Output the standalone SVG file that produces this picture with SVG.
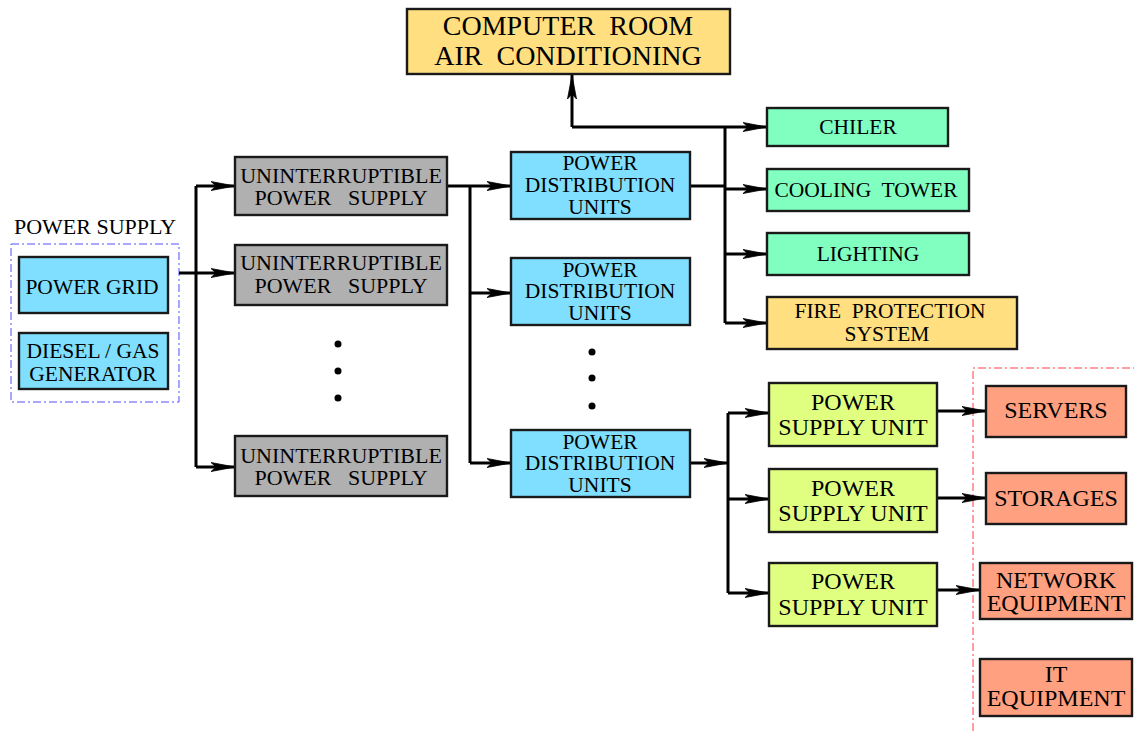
<svg xmlns="http://www.w3.org/2000/svg" width="1134" height="731" viewBox="0 0 1134 731">
<style>
.box{stroke:#1a1a1a;stroke-width:2.4}
.t{font-family:'Liberation Serif','Times New Roman','DejaVu Serif',serif;fill:#000;text-anchor:middle;white-space:pre}
.blue{fill:#80DFFF}.grey{fill:#B0B0B0}.green{fill:#80FFC0}.orange{fill:#FFDF80}.lime{fill:#E0FF80}.salmon{fill:#FFA080}
.ln{fill:none;stroke:#000;stroke-width:3}
.arr{marker-end:url(#ah)}
</style>
<defs>
<marker id="ah" markerUnits="userSpaceOnUse" markerWidth="26" markerHeight="12" viewBox="0 -6 26 12" refX="24" refY="0" orient="auto">
<path d="M0,-4.5 L24,0 L0,4.5 L5,0 z" fill="#000" stroke="#000" stroke-width="0.8"/>
</marker>
</defs>
<rect x="11" y="244" width="168" height="158" fill="none" stroke="#5050FF" stroke-width="1" stroke-dasharray="8,3,2,3"/>
<text class="t" x="95" y="234" font-size="22">POWER SUPPLY</text>
<path d="M973,731 V368 H1134" fill="none" stroke="#FF4040" stroke-width="1" stroke-dasharray="8,3,2,3"/>
<g id="connectors">
<path class="ln" d="M196,186 V467"/>
<path class="ln arr" d="M196,186 H235"/>
<path class="ln arr" d="M179,273 H235"/>
<path class="ln arr" d="M196,467 H235"/>
<path class="ln arr" d="M447,186 H511"/>
<path class="ln" d="M470,186 V463"/>
<path class="ln arr" d="M470,293 H511"/>
<path class="ln arr" d="M470,463 H511"/>
<path class="ln" d="M690,186 H725"/>
<path class="ln" d="M725,127 V323"/>
<path class="ln arr" d="M572,127 V75"/>
<path class="ln arr" d="M572,127 H767"/>
<path class="ln arr" d="M725,189 H767"/>
<path class="ln arr" d="M725,254 H767"/>
<path class="ln arr" d="M725,323 H767"/>
<path class="ln arr" d="M690,463 H728"/>
<path class="ln" d="M728,413 V593"/>
<path class="ln arr" d="M728,413 H769"/>
<path class="ln arr" d="M728,499 H769"/>
<path class="ln arr" d="M728,593 H769"/>
<path class="ln arr" d="M937,411 H986"/>
<path class="ln arr" d="M937,498 H986"/>
<path class="ln arr" d="M937,590 H980"/>
</g>
<g id="dots" fill="#000">
<circle cx="338" cy="344" r="3.5"/><circle cx="338" cy="371" r="3.5"/><circle cx="338" cy="398" r="3.5"/>
<circle cx="592" cy="352" r="3.5"/><circle cx="592" cy="378" r="3.5"/><circle cx="592" cy="406" r="3.5"/>
</g>
<g id="crac"><rect class="box orange" x="407" y="9" width="323" height="65"/>
<text class="t" x="568" y="35" font-size="28">COMPUTER  ROOM</text><text class="t" x="568" y="65" font-size="28">AIR  CONDITIONING</text></g>
<g id="grid"><rect class="box blue" x="19" y="257" width="149" height="56"/><text class="t" x="92" y="294" font-size="21.5">POWER GRID</text></g>
<g id="diesel"><rect class="box blue" x="19" y="333" width="149" height="56"/><text class="t" x="93" y="358" font-size="21.5">DIESEL / GAS</text><text class="t" x="93" y="381" font-size="21.5">GENERATOR</text></g>
<g id="ups1"><rect class="box grey" x="235" y="157" width="212" height="58"/><text class="t" x="341" y="183" font-size="22">UNINTERRUPTIBLE</text><text class="t" x="341" y="205" font-size="22">POWER   SUPPLY</text></g>
<g id="ups2"><rect class="box grey" x="235" y="245" width="212" height="60"/><text class="t" x="341" y="270" font-size="22">UNINTERRUPTIBLE</text><text class="t" x="341" y="293" font-size="22">POWER   SUPPLY</text></g>
<g id="ups3"><rect class="box grey" x="235" y="436" width="212" height="60"/><text class="t" x="341" y="463" font-size="22">UNINTERRUPTIBLE</text><text class="t" x="341" y="485" font-size="22">POWER   SUPPLY</text></g>
<g id="pdu1"><rect class="box blue" x="511" y="152" width="179" height="67"/><text class="t" x="600" y="170" font-size="21.5">POWER</text><text class="t" x="600" y="192" font-size="21.5">DISTRIBUTION</text><text class="t" x="600" y="214" font-size="21.5">UNITS</text></g>
<g id="pdu2"><rect class="box blue" x="511" y="258" width="179" height="67"/><text class="t" x="600" y="277" font-size="21.5">POWER</text><text class="t" x="600" y="298" font-size="21.5">DISTRIBUTION</text><text class="t" x="600" y="320" font-size="21.5">UNITS</text></g>
<g id="pdu3"><rect class="box blue" x="511" y="430" width="179" height="67"/><text class="t" x="600" y="449" font-size="21.5">POWER</text><text class="t" x="600" y="470" font-size="21.5">DISTRIBUTION</text><text class="t" x="600" y="492" font-size="21.5">UNITS</text></g>
<g id="chiler"><rect class="box green" x="767" y="108" width="181" height="38"/><text class="t" x="858" y="134" font-size="21.5">CHILER</text></g>
<g id="cooling"><rect class="box green" x="767" y="169" width="202" height="42"/><text class="t" x="866" y="197" font-size="21.5">COOLING  TOWER</text></g>
<g id="lighting"><rect class="box green" x="767" y="233" width="202" height="42"/><text class="t" x="868" y="261" font-size="21.5">LIGHTING</text></g>
<g id="fire"><rect class="box orange" x="767" y="297" width="250" height="52"/><text class="t" x="890" y="318" font-size="21.5">FIRE  PROTECTION</text><text class="t" x="887" y="341" font-size="21.5">SYSTEM</text></g>
<g id="psu1"><rect class="box lime" x="769" y="383" width="168" height="63"/><text class="t" x="853" y="410" font-size="24">POWER</text><text class="t" x="853" y="435" font-size="24">SUPPLY UNIT</text></g>
<g id="psu2"><rect class="box lime" x="769" y="469" width="168" height="63"/><text class="t" x="853" y="496" font-size="24">POWER</text><text class="t" x="853" y="521" font-size="24">SUPPLY UNIT</text></g>
<g id="psu3"><rect class="box lime" x="769" y="563" width="168" height="63"/><text class="t" x="853" y="589" font-size="24">POWER</text><text class="t" x="853" y="615" font-size="24">SUPPLY UNIT</text></g>
<g id="servers"><rect class="box salmon" x="986" y="386" width="140" height="51"/><text class="t" x="1056" y="418" font-size="24">SERVERS</text></g>
<g id="storages"><rect class="box salmon" x="986" y="473" width="140" height="51"/><text class="t" x="1056" y="506" font-size="24">STORAGES</text></g>
<g id="network"><rect class="box salmon" x="980" y="563" width="152" height="56"/><text class="t" x="1056" y="588" font-size="24">NETWORK</text><text class="t" x="1056" y="611" font-size="24">EQUIPMENT</text></g>
<g id="it"><rect class="box salmon" x="980" y="659" width="152" height="57"/><text class="t" x="1056" y="682" font-size="24">IT</text><text class="t" x="1056" y="706" font-size="24">EQUIPMENT</text></g>
</svg>
